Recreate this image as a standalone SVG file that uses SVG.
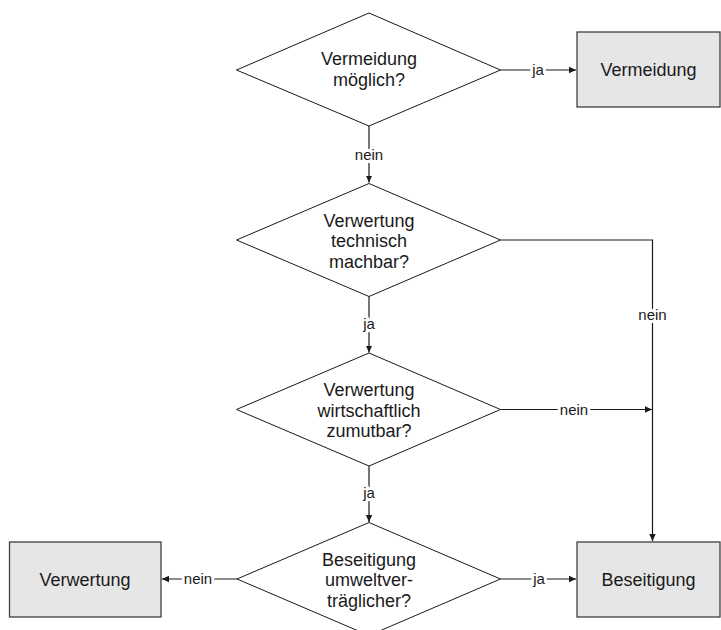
<svg xmlns="http://www.w3.org/2000/svg" width="721" height="630" viewBox="0 0 721 630">
<style>
.dia{fill:#fff;stroke:#1a1a1a;stroke-width:1}
.box{fill:#e6e6e6;stroke:#404040;stroke-width:1.3}
.t{font-family:"Liberation Sans",Arial,sans-serif;font-size:18px;fill:#1a1a1a;text-anchor:middle}
.l{font-family:"Liberation Sans",Arial,sans-serif;font-size:15px;fill:#1a1a1a;text-anchor:middle;stroke:#fff;stroke-width:6;paint-order:stroke;stroke-linejoin:round}
.c{fill:none;stroke:#1a1a1a;stroke-width:1.2}
</style>
<defs>
<marker id="ah" markerWidth="8" markerHeight="8" refX="7" refY="4" orient="auto" markerUnits="userSpaceOnUse">
<path d="M0,0.8 L7,4 L0,7.2 Z" fill="#1a1a1a"/>
</marker>
</defs>
<rect width="721" height="630" fill="#fff"/>
<g id="connectors">
<path class="c" d="M500.5,70 H576" marker-end="url(#ah)"/>
<path class="c" d="M369,126 V182.5" marker-end="url(#ah)"/>
<path class="c" d="M500.5,240 H652.5 V541" marker-end="url(#ah)"/>
<path class="c" d="M369,296.5 V352.5" marker-end="url(#ah)"/>
<path class="c" d="M500.5,409.5 H652" marker-end="url(#ah)"/>
<path class="c" d="M369,466 V522" marker-end="url(#ah)"/>
<path class="c" d="M500.5,579 H576" marker-end="url(#ah)"/>
<path class="c" d="M237,579 H162" marker-end="url(#ah)"/>
<text class="l" x="538" y="75">ja</text>
<text class="l" x="369" y="159.5">nein</text>
<text class="l" x="652.5" y="320">nein</text>
<text class="l" x="369" y="329">ja</text>
<text class="l" x="574" y="414.5">nein</text>
<text class="l" x="369" y="497.5">ja</text>
<text class="l" x="539" y="584">ja</text>
<text class="l" x="198" y="584">nein</text>
</g>
<g id="d1">
<polygon class="dia" points="369,13 500.5,70 369,126 236.5,70"/>
<text class="t" x="369" y="65">Vermeidung</text>
<text class="t" x="369" y="85.5">möglich?</text>
</g>
<g id="r1">
<rect class="box" x="577" y="32" width="143" height="75"/>
<text class="t" x="648.5" y="75.5">Vermeidung</text>
</g>
<g id="d2">
<polygon class="dia" points="369,183.5 500.5,240 369,296.5 236.5,240"/>
<text class="t" x="369" y="226.5">Verwertung</text>
<text class="t" x="369" y="247">technisch</text>
<text class="t" x="369" y="267.5">machbar?</text>
</g>
<g id="d3">
<polygon class="dia" points="369,353 500.5,409.5 369,466 236.5,409.5"/>
<text class="t" x="369" y="396">Verwertung</text>
<text class="t" x="369" y="416.5">wirtschaftlich</text>
<text class="t" x="369" y="437">zumutbar?</text>
</g>
<g id="d4">
<polygon class="dia" points="369,522.5 500.5,579 369,635.5 237,579"/>
<text class="t" x="369" y="565.5">Beseitigung</text>
<text class="t" x="369" y="586">umweltver-</text>
<text class="t" x="369" y="606.5">träglicher?</text>
</g>
<g id="r2">
<rect class="box" x="9.5" y="542" width="151.5" height="75"/>
<text class="t" x="85" y="585.5">Verwertung</text>
</g>
<g id="r3">
<rect class="box" x="577" y="542" width="143" height="75"/>
<text class="t" x="648.5" y="585.5">Beseitigung</text>
</g>
</svg>
